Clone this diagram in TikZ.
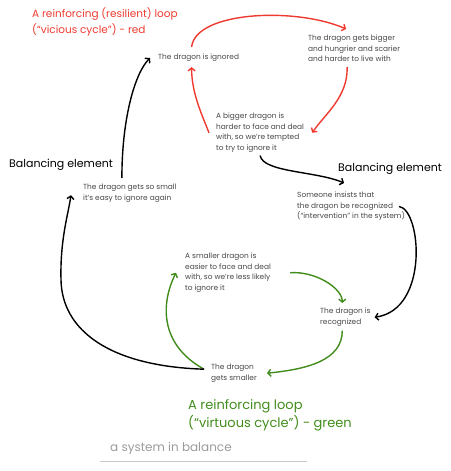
\documentclass[tikz,border=0pt]{standalone}
\usepackage{fontspec}
\setmainfont{Poppins}
\usetikzlibrary{arrows.meta}
\definecolor{loopred}{RGB}{238,58,48}
\definecolor{loopgreen}{RGB}{66,140,28}
\definecolor{notegray}{RGB}{70,70,70}
\definecolor{captiongray}{RGB}{155,155,155}
\definecolor{rulegray}{RGB}{200,200,200}
\begin{document}
\begin{tikzpicture}[x=1pt,y=-1pt]
   \useasboundingbox (0,0) rectangle (450,471);

   \tikzset{note/.style={anchor=north west, inner sep=0pt, align=left, text=notegray, font=\fontsize{7.4}{10.5}\selectfont},
            head/.style={anchor=north west, inner sep=0pt, align=left, font=\fontsize{10.5}{16}\selectfont},
            link/.style={line width=1.4pt, -{Straight Barb[length=3pt,width=7pt]}}}

   % titles
   \node[head, text=loopred] (redtitle) at (32,7) {A reinforcing (resilient) loop\\(“vicious cycle”) - red};
   \node[head, text=loopgreen, font=\fontsize{13}{18}\selectfont] (greentitle) at (188,399) {A reinforcing loop\\(“virtuous cycle”) - green};
   \node[head, font=\fontsize{11}{16}\selectfont] (balR) at (338,163) {Balancing element};
   \node[head, font=\fontsize{11}{16}\selectfont] (balL) at (9,159) {Balancing element};
   \node[head, text=captiongray, font=\fontsize{12}{16}\selectfont] (caption) at (110,442) {a system in balance};
   \draw[rulegray, line width=0.8pt] (100,461) -- (307,461);

   % notes
   \node[note] (ignored) at (158,54) {The dragon is ignored};
   \node[note] (bigger) at (308,35) {The dragon gets bigger\\and hungrier and scarier\\and harder to live with};
   \node[note] (tempted) at (216,113) {A bigger dragon is\\harder to face and deal\\with, so we’re tempted\\to try to ignore it};
   \node[note] (someone) at (297,192) {Someone insists that\\the dragon be recognized\\(“intervention” in the system)};
   \node[note] (sosmall) at (83,184) {The dragon gets so small\\it’s easy to ignore again};
   \node[note] (lesslikely) at (185,253) {A smaller dragon is\\easier to face and deal\\with, so we’re less likely\\to ignore it};
   \node[note] (recog) at (320,308) {The dragon is\\recognized};
   \node[note] (smaller) at (211,364) {The dragon\\gets smaller};

   % red loop
   \draw[link, loopred] ([xshift=-7pt,yshift=7pt]ignored.north) .. controls +(4,-36) and +(-50,-22) .. ([xshift=-8pt,yshift=6pt]bigger.north);
   \draw[link, loopred] ([xshift=-7pt,yshift=-5pt]bigger.south) .. controls +(1,30) and +(12,-18) .. ([xshift=8pt]tempted.east);
   \draw[link, loopred] ([xshift=-7pt]tempted.west) .. controls +(-8,-20) and +(0,25) .. ([xshift=-7pt,yshift=-5pt]ignored.south);

   % balancing element, top
   \draw[link] ([yshift=-3pt]tempted.south) .. controls +(3,17) and +(-28,-12) .. ([xshift=-7pt,yshift=9pt]someone.north);
   \draw[link] ([xshift=-6pt]someone.east) .. controls +(22,3) and +(55,-8) .. ([xshift=4pt]recog.east);

   % green loop
   \draw[link, loopgreen] ([xshift=19pt]lesslikely.east) .. controls +(25,-2) and +(0,-15) .. ([xshift=-3pt,yshift=5pt]recog.north);
   \draw[link, loopgreen] ([xshift=-3pt,yshift=-4pt]recog.south) .. controls +(0,30) and +(40,-4) .. ([xshift=10pt]smaller.east);
   \draw[link, loopgreen] ([xshift=-7pt,yshift=4pt]smaller.west) .. controls +(-45,-25) and +(-15,30) .. ([xshift=-9pt]lesslikely.west);

   % balancing element, bottom
   \draw[link] ([xshift=-7pt,yshift=4pt]smaller.west) .. controls +(-95,-3) and +(1,50) .. (61,280) .. controls +(-1,-40) and +(-3,20) .. ([xshift=-12pt,yshift=-2pt]sosmall.west);
   \draw[link] ([xshift=-8pt,yshift=6pt]sosmall.north) .. controls +(0,-60) and +(-15,15) .. ([xshift=-8pt]ignored.west);

\end{tikzpicture}
\end{document}
